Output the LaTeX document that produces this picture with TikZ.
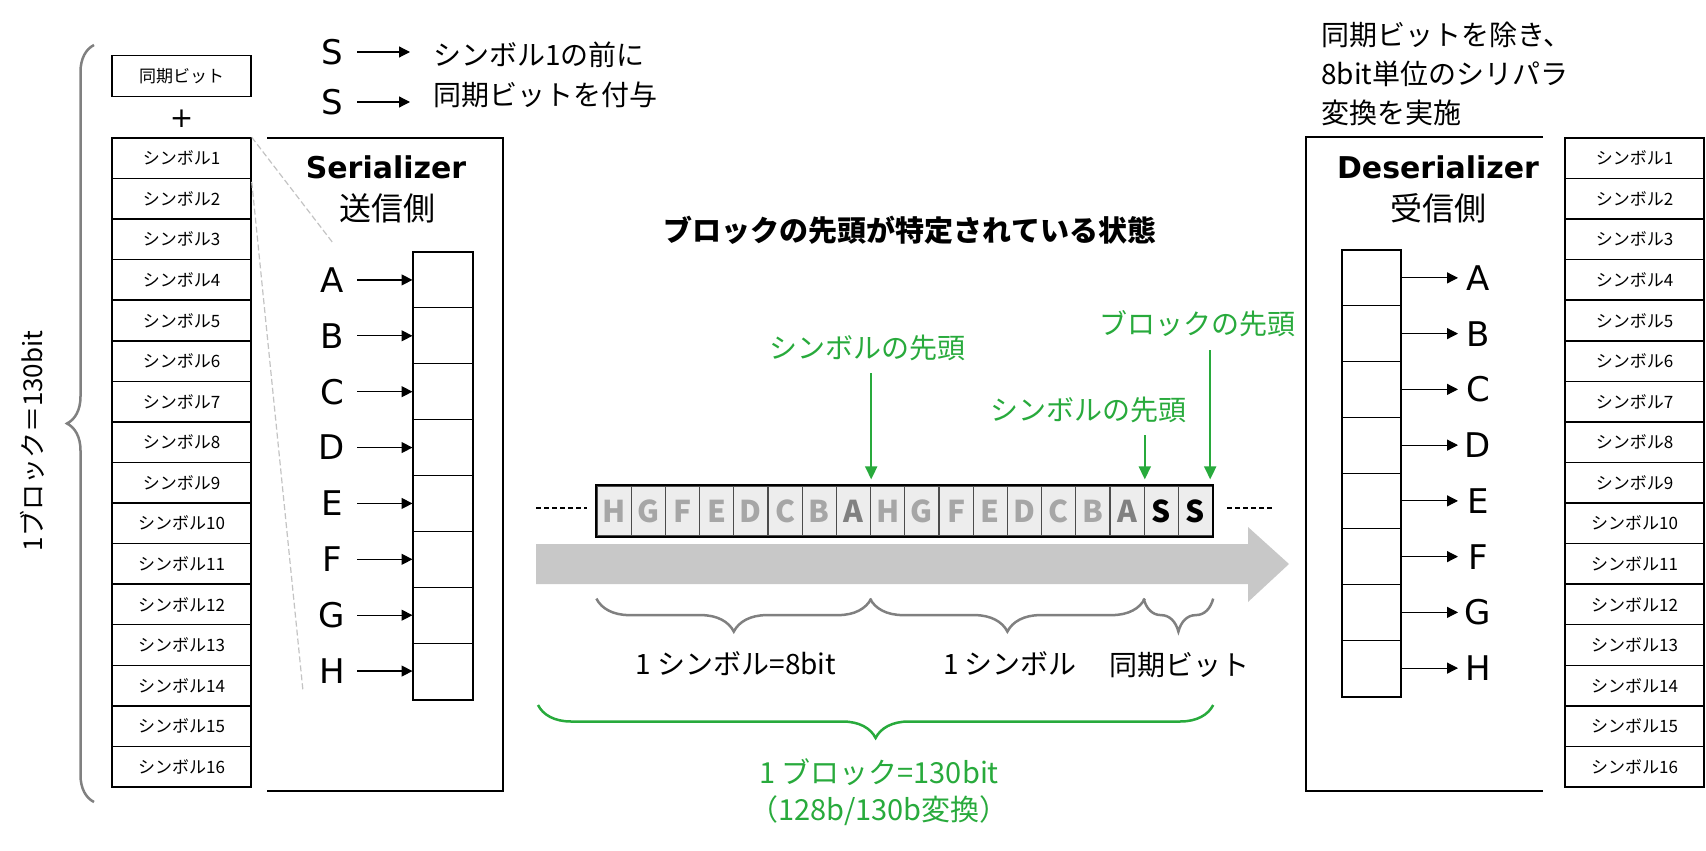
\documentclass[tikz,border=0pt]{standalone}
\usepackage{fontspec}
\setmainfont{DejaVu Sans}
\newfontfamily\jpf{Noto Sans CJK JP}
\usetikzlibrary{decorations.pathreplacing,arrows.meta}
\definecolor{grn}{RGB}{40,170,60}
\definecolor{arrgray}{RGB}{200,200,200}
\definecolor{cellfill}{RGB}{237,237,237}
\definecolor{lgray}{RGB}{166,166,166}
\definecolor{mgray}{RGB}{128,128,128}
\definecolor{zgray}{RGB}{195,195,195}
\begin{document}
\begin{tikzpicture}[x=1pt,y=-1pt,
  symbox/.style={draw, line width=1.5pt, minimum width=139pt, minimum height=40.56pt, inner sep=0pt, font=\jpf\fontsize{17}{20}\selectfont},
  regcell/.style={draw, line width=1pt, minimum width=59pt, minimum height=55.875pt, inner sep=0pt},
  letter/.style={font=\fontsize{34}{40}\selectfont, inner sep=0pt},
  arr/.style={line width=1.2pt, -{Triangle[length=11pt,width=11pt]}},
  garr/.style={draw=grn, line width=2pt, -{Triangle[length=13pt,width=12pt]}},
  brc/.style={decorate, draw=mgray, line width=2.5pt},
  grbrc/.style={decorate, draw=grn, line width=2.5pt},
  stcell/.style={draw=black!70, fill=cellfill, line width=1.2pt, minimum width=34.2pt, minimum height=50pt, inner sep=0pt, font=\jpf\bfseries\fontsize{30}{36}\selectfont},
  jt/.style={font=\jpf\fontsize{28}{34}\selectfont, inner sep=0pt},
  ttl/.style={font=\bfseries\fontsize{30}{36}\selectfont},
  zl/.style={draw=zgray, line width=1.2pt, dash pattern=on 6pt off 3pt},
  dsh/.style={line width=1.5pt, dash pattern=on 5pt off 3pt}
]
\useasboundingbox (0,0) rectangle (1706,851);

% ---------- left column ----------
\coordinate (lbT) at (94,45);
\coordinate (lbB) at (94,802);
\draw[brc, decoration={brace,amplitude=27pt}] (lbB) -- (lbT);
\node[rotate=90, font=\jpf\fontsize{26}{30}\selectfont] (blk) at (32,441) {1ブロック＝130bit};

\node[symbox] (sync) at (181.5,76) {同期ビット};
\node[font=\fontsize{28}{30}\selectfont, inner sep=0pt] (plus) at (181.5,119) {+};
\foreach \i in {1,...,16}
  \node[symbox] (ls\i) at (181.5,{117.72+40.56*\i}) {シンボル\i};

% zoom lines
\coordinate (z1) at (333,243);
\coordinate (z2) at (303,691);
\draw[zl] (ls1.north east) -- (z1);
\draw[zl] ([yshift=-4pt]ls2.north east) -- (z2);

% ---------- serializer ----------
\draw[line width=2pt] (267,138) -- (503,138) -- (503,791) -- (267,791);
\node[ttl] (ser) at (386,167) {Serializer};
\node[font=\jpf\fontsize{32}{36}\selectfont] (sers) at (387,208) {送信側};

\node[letter] (s1) at (332,52) {S};
\node[letter] (s2) at (332,102) {S};
\node[jt, anchor=west] (t1) at (433,55) {シンボル1の前に};
\node[jt, anchor=west] (t2) at (433,95) {同期ビットを付与};
\draw[arr, shorten <=25pt, shorten >=23pt] (s1.center) -- (s1.center -| t1.west);
\draw[arr, shorten <=25pt, shorten >=23pt] (s2.center) -- (s2.center -| t2.west);

\foreach \L [count=\i from 0] in {A,B,C,D,E,F,G,H} {
  \node[regcell] (sc\L) at (442.5,{279.94+55.875*\i}) {};
  \node[letter] (sl\L) at (332,{279.94+55.875*\i}) {\L};
  \draw[arr, shorten <=25pt] (sl\L.center) -- (sc\L.west);
}
\draw[line width=2pt] (scA.north west) rectangle (scH.south east);

% ---------- deserializer ----------
\draw[line width=2pt] (1543,137) -- (1306,137) -- (1306,791) -- (1543,791);
\node[ttl] (des) at (1438,167) {Deserializer};
\node[font=\jpf\fontsize{32}{36}\selectfont] (dess) at (1438,208) {受信側};
\node[jt, anchor=west, align=left, font=\jpf\fontsize{28}{39}\selectfont] (note) at (1321,74) {同期ビットを除き、\\8bit単位のシリパラ\\変換を実施};

\foreach \L [count=\i from 0] in {A,B,C,D,E,F,G,H} {
  \node[regcell, minimum width=58pt, minimum height=55.75pt] (dc\L) at (1371,{277.875+55.75*\i}) {};
  \node[letter] (dl\L) at (1478,{277.875+55.75*\i}) {\L};
  \draw[arr, shorten >=20pt] (dc\L.east) -- (dl\L.center);
}
\draw[line width=2pt] (dcA.north west) rectangle (dcH.south east);

\foreach \i in {1,...,16}
  \node[symbox] (rs\i) at (1634.5,{117.72+40.56*\i}) {シンボル\i};

% ---------- centre ----------
\node[font=\jpf\bfseries\fontsize{29}{34}\selectfont] (title) at (910,230) {ブロックの先頭が特定されている状態};

\fill[arrgray] (536,544) -- (1248,544) -- (1248,527) -- (1289,564) -- (1248,602) -- (1248,584) -- (536,584) -- cycle;

\foreach \L/\cl [count=\i from 0] in {H/lgray,G/lgray,F/lgray,E/lgray,D/lgray,C/lgray,B/lgray,A/mgray,H/lgray,G/lgray,F/lgray,E/lgray,D/lgray,C/lgray,B/lgray,A/mgray,S/black,S/black} {
  \node[stcell, text=\cl] (st\i) at ({614.1+34.2*\i},511) {\L};
}
\draw[line width=2pt] (st0.north west) rectangle (st17.south east);

\coordinate (dl1) at (536,508);
\coordinate (dr1) at (1275,508);
\draw[dsh, shorten >=9pt] (dl1) -- (st0.west |- dl1);
\draw[dsh, shorten <=14pt] (st17.east |- dr1) -- (dr1);

% pointers
\node[jt, text=grn] (p1) at (867,348) {シンボルの先頭};
\node[jt, text=grn] (p2) at (1088,410) {シンボルの先頭};
\node[jt, text=grn] (p3) at (1197,324) {ブロックの先頭};
\coordinate (b1) at (st7.north east);
\coordinate (b2) at (st15.north east);
\coordinate (b3) at ([xshift=-3pt]st17.north east);
\draw[garr, shorten <=12pt, shorten >=6pt] (p1.south -| b1) -- (b1);
\draw[garr, shorten <=12pt, shorten >=6pt] (p2.south -| b2) -- (b2);
\draw[garr, shorten <=13pt, shorten >=6pt] (p3.south -| b3) -- (b3);

% braces
\draw[brc, decoration={brace,amplitude=33pt}] ([yshift=-62pt]st7.south east) -- ([yshift=-62pt]st0.south west);
\draw[brc, decoration={brace,amplitude=33pt}] ([yshift=-62pt]st15.south east) -- ([yshift=-62pt]st8.south west);
\draw[brc, decoration={brace,amplitude=33pt}] ([yshift=-62pt]st17.south east) -- ([yshift=-62pt]st16.south west);
\node[jt] (l1) at (736,664) {1 シンボル=8bit};
\node[jt] (l2) at (1010,664) {1 シンボル};
\node[jt] (l3) at (1179,665) {同期ビット};

\coordinate (gl) at (538,705);
\draw[grbrc, decoration={brace,amplitude=33pt}] (st17.south east |- gl) -- (gl);
\node[jt, text=grn, font=\jpf\fontsize{29}{34}\selectfont] (g1) at (879,772) {1 ブロック=130bit};
\node[jt, text=grn, font=\jpf\fontsize{29}{34}\selectfont] (g2) at (879,811) {（128b/130b変換）};
\end{tikzpicture}
\end{document}
